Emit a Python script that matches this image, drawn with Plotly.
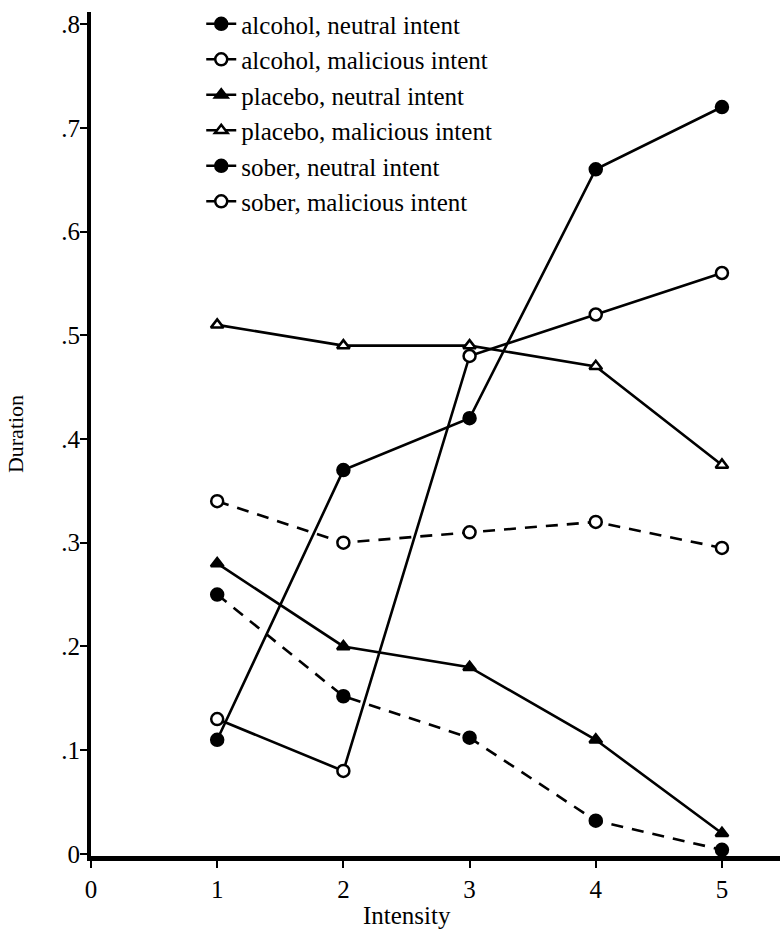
import plotly.graph_objects as go

intensity = [1, 2, 3, 4, 5]
alcohol_neutral = [0.11, 0.37, 0.42, 0.66, 0.72]
alcohol_malicious = [0.13, 0.08, 0.48, 0.52, 0.56]
placebo_neutral = [0.28, 0.20, 0.18, 0.11, 0.02]
placebo_malicious = [0.51, 0.49, 0.49, 0.47, 0.375]
sober_neutral = [0.25, 0.152, 0.112, 0.032, 0.004]
sober_malicious = [0.34, 0.30, 0.31, 0.32, 0.295]

y_tickvals = [0, 0.1, 0.2, 0.3, 0.4, 0.5, 0.6, 0.7, 0.8]
y_ticktext = ["0", ".1", ".2", ".3", ".4", ".5", ".6", ".7", ".8"]
x_tickvals = [0, 1, 2, 3, 4, 5]

FONT = "Liberation Serif"
BLACK = "#000000"

series = [
    ("alcohol, neutral intent", alcohol_neutral, "circle", True, "solid"),
    ("alcohol, malicious intent", alcohol_malicious, "circle", False, "solid"),
    ("placebo, neutral intent", placebo_neutral, "triangle-up", True, "solid"),
    ("placebo, malicious intent", placebo_malicious, "triangle-up", False, "solid"),
    ("sober, neutral intent", sober_neutral, "circle", True, "12px,9px"),
    ("sober, malicious intent", sober_malicious, "circle", False, "12px,9px"),
]

fig = go.Figure()
for i, (name, vals, sym, filled, dash) in enumerate(series):
    fig.add_trace(go.Scatter(
        x=intensity, y=vals, name=name, mode="lines+markers",
        legendgroup=f"g{i}",
        line=dict(color=BLACK, width=2.6, dash=dash),
        marker=dict(symbol=sym, size=12 if "circle" in sym else 11,
                    color=BLACK if filled else "white",
                    line=dict(color=BLACK, width=2.5)),
    ))

fig.update_layout(
    width=780, height=939,
    margin=dict(l=91, r=0, t=12, b=83),
    paper_bgcolor="white", plot_bgcolor="white",
    font=dict(family=FONT, size=25, color=BLACK),
    showlegend=True,
    legend=dict(x=0.16, y=1.013, xanchor="left", yanchor="top",
                font=dict(family=FONT, size=25, color=BLACK),
                bgcolor="rgba(0,0,0,0)", tracegroupgap=0),
    xaxis=dict(range=[0, 5.46], tickvals=x_tickvals, ticks="outside",
               ticklen=7, tickwidth=2, tickcolor=BLACK,
               showline=True, linewidth=5, linecolor=BLACK,
               showgrid=False, zeroline=False, automargin=False,
               tickfont=dict(family=FONT, size=25)),
    yaxis=dict(range=[-0.002, 0.8116], tickvals=y_tickvals, ticktext=y_ticktext,
               ticks="outside", ticklen=7, tickwidth=2, tickcolor=BLACK,
               ticklabelstandoff=-5,
               showline=True, linewidth=4, linecolor=BLACK,
               showgrid=False, zeroline=False, automargin=False,
               tickfont=dict(family=FONT, size=25),
               title=dict(text="Duration", standoff=33,
                          font=dict(family=FONT, size=22))),
    annotations=[
        dict(text="Intensity", xref="paper", yref="paper",
             x=0.459, y=-0.071, xanchor="center", yanchor="middle",
             showarrow=False, font=dict(family=FONT, size=25)),
    ],
)

fig.write_html("out.html", config={"displayModeBar": False},
               post_script="document.body.style.margin='0';document.body.style.padding='0';")
